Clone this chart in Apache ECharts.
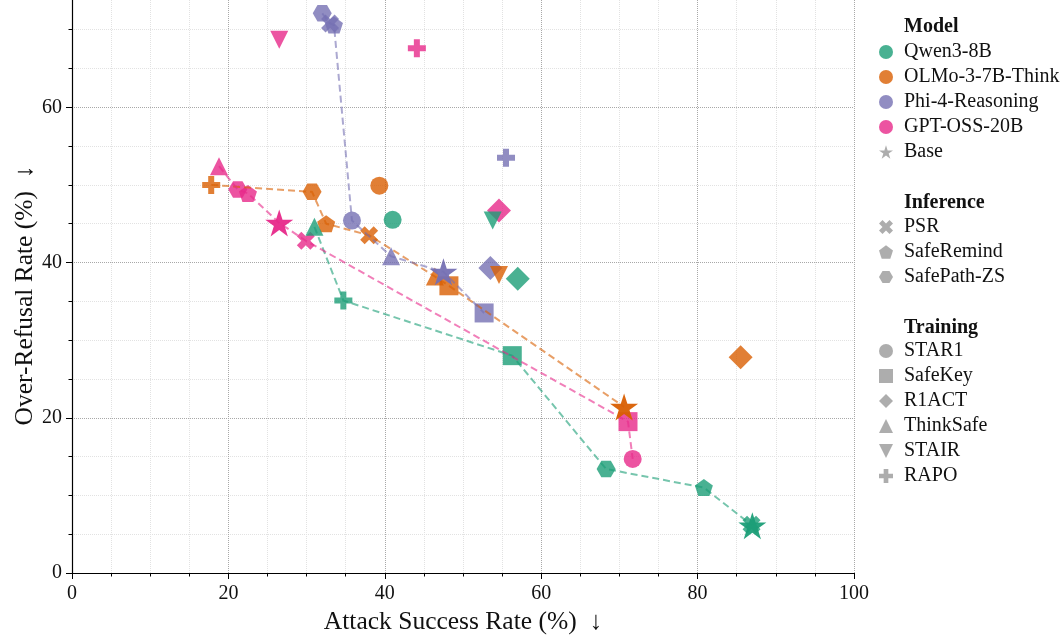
<!DOCTYPE html>
<html>
<head>
<meta charset="utf-8">
<script src="https://cdn.jsdelivr.net/npm/echarts@6/dist/echarts.min.js"></script>
<style>
	html, body { margin: 0; padding: 0; background: #fff; overflow: hidden; }
	/* chart is taller than the window: the y axis runs on to 80, above the visible top */
	#chart { position: absolute; left: 0; top: -48px; width: 1061px; height: 688px; }
</style>
</head>
<body>
<div id="chart"></div>
<script>
// methods, in the order of the value arrays below
const METHODS = ['Base', 'PSR', 'SafeRemind', 'SafePath-ZS', 'STAR1', 'SafeKey', 'R1ACT', 'ThinkSafe', 'STAIR', 'RAPO'];
const MODELS = ['Qwen3-8B', 'OLMo-3-7B-Think', 'Phi-4-Reasoning', 'GPT-OSS-20B'];
const INFERENCE = ['PSR', 'SafeRemind', 'SafePath-ZS'];
const TRAINING = ['STAR1', 'SafeKey', 'R1ACT', 'ThinkSafe', 'STAIR', 'RAPO'];
const X_TICKS = [0, 20, 40, 60, 80, 100];
const Y_TICKS = [0, 20, 40, 60];

// attack success rate (%) / over-refusal rate (%)
const qwenASR = [87.0, 86.9, 80.8, 68.3, 41.0, 56.3, 57.0, 31.0, 53.8, 34.7];
const qwenORR = [6.1, 6.2, 11.0, 13.4, 45.5, 28.0, 37.9, 44.6, 45.4, 35.1];
const olmoASR = [70.6, 38.0, 32.5, 30.7, 39.3, 48.2, 85.5, 46.4, 54.6, 17.8];
const olmoORR = [21.4, 43.5, 45.0, 49.1, 49.9, 37.0, 27.8, 38.2, 38.4, 50.0];
const phiASR = [47.5, 33.0, 33.5, 32.0, 35.8, 52.7, 53.5, 40.8, null, 55.5];
const phiORR = [38.8, 70.8, 70.6, 72.1, 45.4, 33.5, 39.3, 40.8, null, 53.5];
const gptASR = [26.5, 29.9, 22.5, 21.2, 71.7, 71.1, 54.6, 18.8, 26.5, 44.1];
const gptORR = [45.1, 42.8, 48.9, 49.4, 14.7, 19.5, 46.7, 52.4, 68.7, 67.6];

// dashed fronts, as method names in drawing order
const qwenFront = ['ThinkSafe', 'RAPO', 'SafeKey', 'SafePath-ZS', 'SafeRemind', 'Base'];
const olmoFront = ['RAPO', 'SafePath-ZS', 'SafeRemind', 'PSR', 'ThinkSafe', 'SafeKey', 'Base'];
const phiFront = ['SafePath-ZS', 'PSR', 'SafeRemind', 'STAR1', 'ThinkSafe', 'Base', 'SafeKey'];
const gptFront = ['ThinkSafe', 'SafePath-ZS', 'SafeRemind', 'Base', 'PSR', 'SafeKey', 'STAR1'];

const
	SHIFT = 48, // px of chart hidden above the window
	COLORS = ['#1b9e77', '#d95f02', '#7570b3', '#e7298a'],
	GRAY = '#999999',
	FONT = '"Liberation Serif", "DejaVu Serif", serif',
	STAR = 'path://M0,-10L2.245,-3.09L9.511,-3.09L3.633,1.18L5.878,8.09L0,3.82L-5.878,8.09L-3.633,1.18L-9.511,-3.09L-2.245,-3.09Z',
	CROSS = 'path://M1.414,-2.828L2.828,-1.414L1.414,0L2.828,1.414L1.414,2.828L0,1.414L-1.414,2.828L-2.828,1.414L-1.414,0L-2.828,-1.414L-1.414,-2.828L0,-1.414Z',
	PLUS = 'path://M-1,-3L1,-3L1,-1L3,-1L3,1L1,1L1,3L-1,3L-1,1L-3,1L-3,-1L-1,-1Z',
	PENTAGON = 'path://M0,-1L0.951,-0.309L0.588,0.809L-0.588,0.809L-0.951,-0.309Z',
	HEXAGON = 'path://M1,0L0.5,0.866L-0.5,0.866L-1,0L-0.5,-0.866L0.5,-0.866Z',
	DOWN = 'path://M-1,-1L1,-1L0,1Z',
	SHAPES = {
		'Base': { symbol: STAR, size: [28, 27] },
		'PSR': { symbol: CROSS, size: [18, 18] },
		'SafeRemind': { symbol: PENTAGON, size: [18, 17] },
		'SafePath-ZS': { symbol: HEXAGON, size: [19, 16.5] },
		'STAR1': { symbol: 'circle', size: [18, 18] },
		'SafeKey': { symbol: 'rect', size: [19, 19] },
		'R1ACT': { symbol: 'diamond', size: [24, 24] },
		'ThinkSafe': { symbol: 'triangle', size: [18, 18] },
		'STAIR': { symbol: DOWN, size: [18, 18] },
		'RAPO': { symbol: PLUS, size: [18, 18] }
	};

const ASR = [qwenASR, olmoASR, phiASR, gptASR],
	ORR = [qwenORR, olmoORR, phiORR, gptORR],
	FRONTS = [qwenFront, olmoFront, phiFront, gptFront];

let chart = echarts.init(document.getElementById('chart'));

// one scatter series per method, so shapes stack like the original (base on top)
let drawOrder = METHODS.slice(1).concat(['Base']);
let pointSeries = drawOrder.map(method => {
	let i = METHODS.indexOf(method), data = [];
	MODELS.forEach((model, k) => {
		if (ASR[k][i] == null) return;
		data.push({ value: [ASR[k][i], ORR[k][i]], itemStyle: { color: COLORS[k] } });
	});
	return {
		type: 'scatter', name: method + ' points', data,
		symbol: SHAPES[method].symbol, symbolSize: SHAPES[method].size,
		itemStyle: { opacity: method === 'Base' ? 0.95 : 0.8 },
		z: method === 'Base' ? 4 : 2, silent: true
	};
});

let frontSeries = MODELS.map((model, k) => ({
	type: 'line', name: model + ' front', z: 3, silent: true,
	symbol: 'none',
	lineStyle: { color: COLORS[k], width: 2, type: [7, 4], opacity: 0.6 },
	data: FRONTS[k].map(m => [ASR[k][METHODS.indexOf(m)], ORR[k][METHODS.indexOf(m)]])
}));

// empty series that only feed the legends
let legendSeries = MODELS.map((model, k) => ({ type: 'scatter', name: model, data: [], itemStyle: { color: COLORS[k] } }))
	.concat(METHODS.map(m => ({ type: 'scatter', name: m, data: [], itemStyle: { color: GRAY } })));

function legendBlock(names, top) {
	return {
		orient: 'vertical', left: 874, top: top + SHIFT,
		itemWidth: 14, itemHeight: 14, itemGap: 5,
		selectedMode: false,
		textStyle: { fontFamily: FONT, fontSize: 20, color: '#111', padding: [0, 0, 0, 6] },
		data: names.map(n => ({ name: n, icon: SHAPES[n] && n !== 'STAR1' ? SHAPES[n].symbol : 'circle' }))
	};
}

function titleBlock(text, top) {
	return { text, left: 899, top: top + SHIFT, textStyle: { fontFamily: FONT, fontSize: 20, fontWeight: 'bold', color: '#111' } };
}

const AXIS_LINE = { show: true, onZero: false, lineStyle: { color: '#000', width: 1.2 } },
	MAJOR_GRID = { show: true, lineStyle: { type: 'dotted', color: '#a8a8a8', width: 1 } },
	MINOR_GRID = { show: true, lineStyle: { type: 'dotted', color: '#e2e2e2', width: 1 } };

chart.setOption({
	animation: false,
	grid: { left: 72, right: 207, top: 0, bottom: 64, containLabel: false },
	title: [titleBlock('Model', 12), titleBlock('Inference', 188), titleBlock('Training', 313)],
	legend: [
		legendBlock(MODELS.concat(['Base']), 37),
		legendBlock(INFERENCE, 212),
		legendBlock(TRAINING, 336)
	],
	xAxis: {
		type: 'value', min: X_TICKS[0], max: X_TICKS[X_TICKS.length - 1], interval: 20,
		name: 'Attack Success Rate (%)  \u2193', nameLocation: 'middle', nameGap: 36,
		nameTextStyle: { fontFamily: FONT, fontSize: 25.5, color: '#111' },
		axisLine: AXIS_LINE,
		axisTick: { show: true, inside: false, length: 6, lineStyle: { color: '#000' } },
		minorTick: { show: true, splitNumber: 4, length: 3.5, lineStyle: { color: '#000' } },
		axisLabel: { fontFamily: FONT, fontSize: 20, color: '#111', margin: 11 },
		splitLine: MAJOR_GRID, minorSplitLine: MINOR_GRID
	},
	yAxis: {
		type: 'value', min: 0, max: 80, interval: 20,
		name: 'Over-Refusal Rate (%)  \u2193', nameLocation: 'middle', nameGap: 34,
		nameMoveOverlap: false,
		// axis middle sits above the window's middle, so push the name down
		nameTextStyle: { fontFamily: FONT, fontSize: 25.5, color: '#111', padding: [0, 66, 0, 0] },
		axisLine: AXIS_LINE,
		axisTick: { show: true, inside: false, length: 6, lineStyle: { color: '#000' } },
		minorTick: { show: true, splitNumber: 4, length: 3.5, lineStyle: { color: '#000' } },
		axisLabel: { fontFamily: FONT, fontSize: 20, color: '#111', margin: 10,
			formatter: v => Y_TICKS.indexOf(v) >= 0 ? String(v) : '' },
		splitLine: MAJOR_GRID, minorSplitLine: MINOR_GRID
	},
	series: legendSeries.concat(pointSeries, frontSeries)
});
</script>
</body>
</html>
